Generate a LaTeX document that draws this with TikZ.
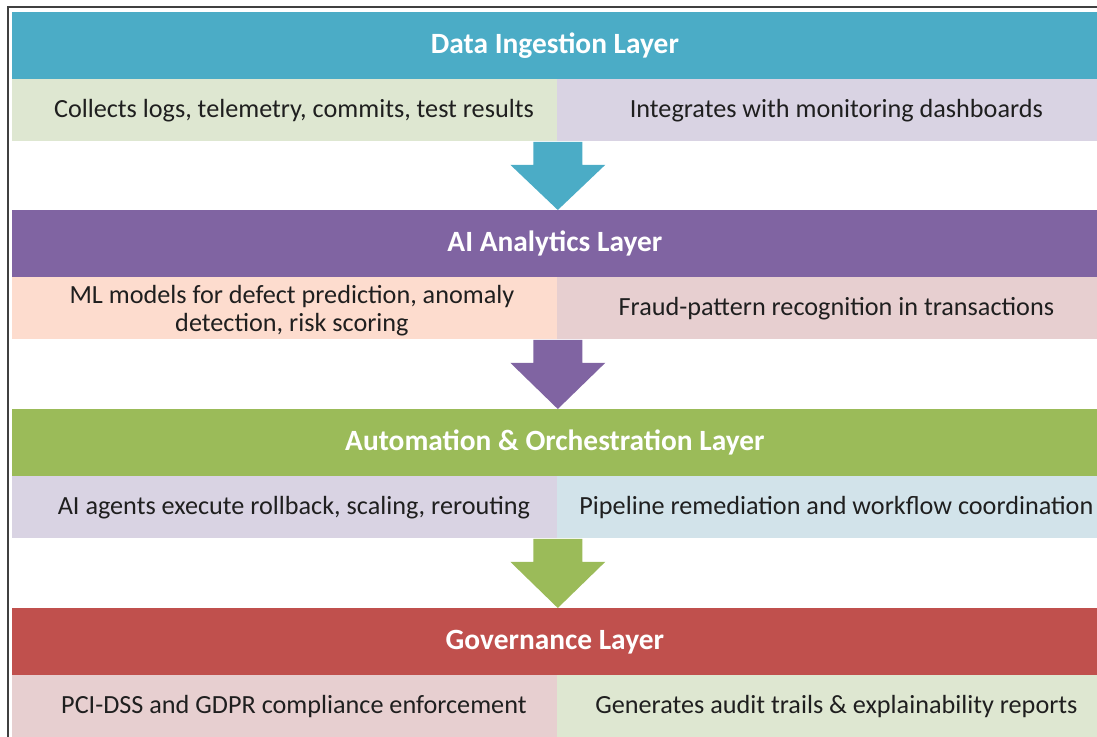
\documentclass[tikz,border=0pt]{standalone}
\usepackage{fontspec}
\setmainfont{Carlito}
\usetikzlibrary{calc}

\definecolor{ingest}{HTML}{4BACC6}
\definecolor{analytic}{HTML}{8064A2}
\definecolor{autom}{HTML}{9BBB59}
\definecolor{govern}{HTML}{C0504D}
\definecolor{palegreen}{HTML}{DEE7D1}
\definecolor{lavender}{HTML}{D9D3E3}
\definecolor{peach}{HTML}{FDDCCE}
\definecolor{rose}{HTML}{E7CFD0}
\definecolor{paleblue}{HTML}{D2E3EA}

\begin{document}
\begin{tikzpicture}[x=0.5pt,y=-0.5pt,
		layer/.style={rectangle,inner sep=0pt,anchor=north west,minimum width=542.5pt,minimum height=33.5pt,text=white,font=\bfseries\fontsize{14.7}{17}\selectfont},
		cellL/.style={rectangle,inner sep=0pt,anchor=north west,minimum width=272.5pt,minimum height=31pt},
		cellR/.style={rectangle,inner sep=0pt,anchor=north west,minimum width=270pt,minimum height=31pt},
		txt/.style={text=black!88,font=\fontsize{13.1}{14}\selectfont,align=center,xshift=4.5pt}]
	\useasboundingbox (0,0) rectangle (1097,737);
	%% frame
	\draw[black!75,line width=0.7pt] (8,750) |- (1110,7);
	%% layers
	\node[layer,fill=ingest] (ingest) at (12,12) {Data Ingestion Layer};
	\node[cellL,fill=palegreen,label={[txt]center:Collects logs, telemetry, commits, test results}] (ingestL) at (12,79) {};
	\node[cellR,fill=lavender,label={[txt]center:Integrates with monitoring dashboards}] (ingestR) at (557,79) {};
	\node[layer,fill=analytic] (analytic) at (12,210) {AI Analytics Layer};
	\node[cellL,fill=peach,label={[txt,xshift=-1pt,yshift=-1pt]center:ML models for defect prediction, anomaly\\detection, risk scoring}] (analyticL) at (12,277) {};
	\node[cellR,fill=rose,label={[txt]center:Fraud-pattern recognition in transactions}] (analyticR) at (557,277) {};
	\node[layer,fill=autom] (autom) at (12,409) {Automation \& Orchestration Layer};
	\node[cellL,fill=lavender,label={[txt]center:AI agents execute rollback, scaling, rerouting}] (automL) at (12,476) {};
	\node[cellR,fill=paleblue,label={[txt]center:Pipeline remediation and workflow coordination}] (automR) at (557,476) {};
	\node[layer,fill=govern] (govern) at (12,608) {Governance Layer};
	\node[cellL,fill=rose,label={[txt]center:PCI-DSS and GDPR compliance enforcement}] (governL) at (12,675) {};
	\node[cellR,fill=palegreen,label={[txt]center:Generates audit trails \& explainability reports}] (governR) at (557,675) {};
	%% block arrows between layers
	\foreach \top/\next/\col in {ingestL/analytic/ingest, analyticL/autom/analytic, automL/govern/autom}
		\fill[\col] ($(\top.south east)+(-24.5,0)$) -- ($(\top.south east)+(24.5,0)$)
			-- ($(\top.south east)+(24.5,23)$) -- ($(\top.south east)+(47.5,23)$)
			-- (\next.north -| \top.south east)
			-- ($(\top.south east)+(-47.5,23)$) -- ($(\top.south east)+(-24.5,23)$) -- cycle;
\end{tikzpicture}
\end{document}
